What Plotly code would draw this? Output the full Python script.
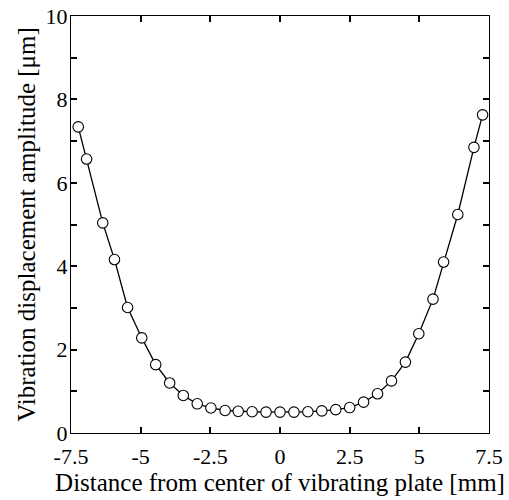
import plotly.graph_objects as go

distance_mm = [-7.24, -6.94, -6.36, -5.94, -5.47, -4.96, -4.46, -3.96, -3.47, -2.97,
               -2.48, -1.97, -1.50, -1.00, -0.50, 0.0, 0.50, 1.00, 1.50, 2.00,
               2.50, 3.00, 3.50, 4.00, 4.50, 4.98, 5.49, 5.87, 6.38, 6.96, 7.27]
amplitude_um = [7.34, 6.57, 5.04, 4.16, 3.01, 2.28, 1.64, 1.20, 0.90, 0.70,
                0.60, 0.54, 0.52, 0.51, 0.50, 0.50, 0.50, 0.51, 0.53, 0.56,
                0.61, 0.74, 0.94, 1.25, 1.70, 2.38, 3.21, 4.10, 5.24, 6.85, 7.63]

x_tickvals = [-7.5, -5, -2.5, 0, 2.5, 5, 7.5]
x_ticktext = ["-7.5", "-5", "-2.5", "0", "2.5", "5", "7.5"]
y_tickvals = [0, 1, 2, 3, 4, 5, 6, 7, 8, 9, 10]
y_ticktext = ["0", "", "2", "", "4", "", "6", "", "8", "", "10"]

font_family = "Liberation Serif"

fig = go.Figure()
fig.add_trace(go.Scatter(
    x=distance_mm, y=amplitude_um, mode="lines+markers",
    line=dict(color="black", width=1.3),
    marker=dict(symbol="circle", size=10.5, color="white",
                line=dict(color="black", width=1.1)),
    showlegend=False, cliponaxis=False,
))

fig.update_layout(
    width=509, height=500,
    margin=dict(l=71, r=20, t=16, b=67, autoexpand=False),
    paper_bgcolor="white", plot_bgcolor="white",
    font=dict(family=font_family, size=22, color="black"),
)
fig.update_xaxes(
    range=[-7.5, 7.5], tickvals=x_tickvals, ticktext=x_ticktext,
    ticks="inside", ticklen=6, tickwidth=1.5, tickcolor="black",
    showline=True, linecolor="black", linewidth=1, mirror="ticks",
    showgrid=False, zeroline=False, automargin=False,
    title=dict(text="Distance from center of vibrating plate [mm]", standoff=2,
               font=dict(family=font_family, size=25)),
    tickfont=dict(family=font_family, size=22),
    ticklabelstandoff=4,
)
fig.update_yaxes(
    range=[0, 10], tickvals=y_tickvals, ticktext=y_ticktext,
    ticks="inside", ticklen=6, tickwidth=1.5, tickcolor="black",
    showline=True, linecolor="black", linewidth=1, mirror="ticks",
    showgrid=False, zeroline=False, automargin=False,
    title=dict(text="Vibration displacement amplitude [μm]", standoff=2,
               font=dict(family=font_family, size=25)),
    tickfont=dict(family=font_family, size=22),
    ticklabelstandoff=-2,
)

fig.write_html(
    "out.html",
    config={"displayModeBar": False},
    post_script="document.body.style.margin='0px';document.body.style.overflow='hidden';",
)
